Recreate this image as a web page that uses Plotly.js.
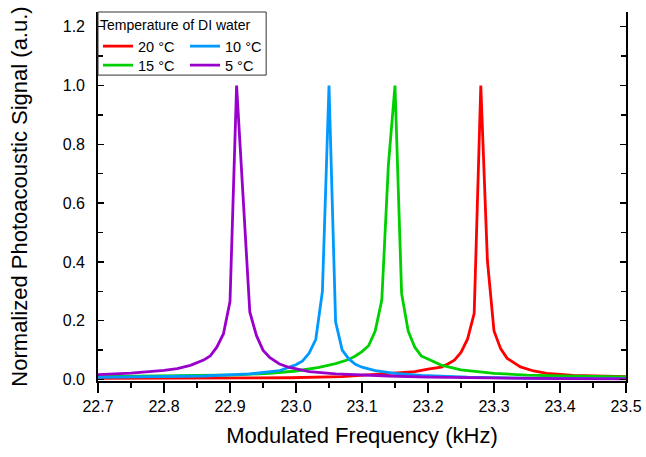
<!DOCTYPE html>
<html>
<head>
<meta charset="utf-8">
<script src="https://cdn.plot.ly/plotly-3.0.1.min.js"></script>
<style>html,body{margin:0;padding:0;background:#fff;}#chart{width:646px;height:457px;}</style>
</head>
<body>
<div id="chart"></div>
<script>
// 20 °C
var freq20 = [22.70, 22.99, 23.07, 23.09, 23.14, 23.18, 23.20, 23.22, 23.23, 23.24, 23.25, 23.26, 23.27, 23.28, 23.29, 23.30, 23.31, 23.32, 23.34, 23.36, 23.38, 23.40, 23.42, 23.50];
var sig20  = [0.004, 0.006, 0.010, 0.013, 0.020, 0.027, 0.035, 0.042, 0.053, 0.066, 0.092, 0.138, 0.225, 1.000, 0.405, 0.165, 0.105, 0.072, 0.043, 0.029, 0.021, 0.018, 0.014, 0.0095];
// 15 °C
var freq15 = [22.70, 22.81, 22.91, 22.96, 23.00, 23.035, 23.06, 23.08, 23.09, 23.10, 23.11, 23.12, 23.13, 23.14, 23.15, 23.16, 23.17, 23.18, 23.19, 23.20, 23.22, 23.25, 23.30, 23.35, 23.40, 23.50];
var sig15  = [0.010, 0.012, 0.016, 0.021, 0.029, 0.041, 0.054, 0.068, 0.080, 0.095, 0.115, 0.165, 0.270, 0.730, 1.000, 0.293, 0.165, 0.110, 0.080, 0.070, 0.049, 0.033, 0.021, 0.015, 0.012, 0.009];
// 10 °C
var freq10 = [22.70, 22.80, 22.86, 22.93, 22.96, 22.975, 22.99, 23.00, 23.01, 23.02, 23.03, 23.04, 23.05, 23.06, 23.07, 23.08, 23.09, 23.10, 23.12, 23.15, 23.19, 23.26, 23.35, 23.50];
var sig10  = [0.007, 0.009, 0.012, 0.019, 0.026, 0.030, 0.042, 0.050, 0.063, 0.090, 0.137, 0.300, 1.000, 0.196, 0.100, 0.070, 0.052, 0.042, 0.030, 0.021, 0.014, 0.008, 0.005, 0.003];
// 5 °C
var freq5  = [22.70, 22.75, 22.80, 22.82, 22.84, 22.85, 22.86, 22.87, 22.88, 22.89, 22.90, 22.91, 22.93, 22.94, 22.95, 22.96, 22.975, 22.99, 23.02, 23.06, 23.10, 23.14, 23.20, 23.30, 23.40, 23.50];
var sig5   = [0.017, 0.022, 0.031, 0.037, 0.048, 0.056, 0.066, 0.080, 0.110, 0.155, 0.265, 1.000, 0.230, 0.150, 0.100, 0.075, 0.053, 0.041, 0.027, 0.019, 0.015, 0.012, 0.008, 0.005, 0.003, 0.002];

var seriesNames = ['20 °C', '15 °C', '10 °C', '5 °C'];
var legendTitle = 'Temperature of DI water';
var xTitle = 'Modulated Frequency (kHz)';
var yTitle = 'Normalized Photoacoustic Signal (a.u.)';

var FONT = '"Liberation Sans", Arial, sans-serif';
var lw = 2.8;

var traces = [
  {x: freq20, y: sig20, name: seriesNames[0], legend: 'legend',  line: {color: '#ff0000', width: lw}},
  {x: freq15, y: sig15, name: seriesNames[1], legend: 'legend2', line: {color: '#00d000', width: lw}},
  {x: freq10, y: sig10, name: seriesNames[2], legend: 'legend',  line: {color: '#0099ff', width: lw}},
  {x: freq5,  y: sig5,  name: seriesNames[3], legend: 'legend2', line: {color: '#9900cc', width: lw}}
].map(function(t){ t.type = 'scatter'; t.mode = 'lines'; return t; });

var layout = {
  width: 646, height: 457,
  margin: {l: 98, r: 20, t: 12, b: 76},
  paper_bgcolor: '#fff', plot_bgcolor: '#fff',
  font: {family: FONT, color: '#000'},
  showlegend: true,
  xaxis: {
    range: [22.7, 23.5], dtick: 0.1, tick0: 22.7, tickformat: '.1f',
    ticks: 'outside', ticklen: 10, tickwidth: 1.5, tickcolor: '#000',
    minor: {dtick: 0.05, ticks: 'outside', ticklen: 5, tickwidth: 1.5, tickcolor: '#000'},
    showline: true, linecolor: '#000', linewidth: 1.8, mirror: false,
    showgrid: false, zeroline: false,
    tickfont: {size: 16, family: FONT},
    title: {text: xTitle, font: {size: 22, family: FONT}, standoff: 13}
  },
  xaxis2: {
    overlaying: 'x', side: 'top', anchor: 'y', matches: 'x', range: [22.7, 23.5],
    dtick: 0.1, tick0: 22.7, ticks: 'inside', ticklen: 6, tickwidth: 1.5, tickcolor: '#000',
    minor: {dtick: 0.05, ticks: 'inside', ticklen: 4, tickwidth: 1.5, tickcolor: '#000'},
    showticklabels: false, showline: true, linecolor: '#000', linewidth: 1.8,
    showgrid: false, zeroline: false
  },
  yaxis: {
    range: [-0.005, 1.25], dtick: 0.2, tick0: 0, tickformat: '.1f',
    ticks: 'inside', ticklen: 6, tickwidth: 1.5, tickcolor: '#000',
    minor: {dtick: 0.1, ticks: 'inside', ticklen: 5, tickwidth: 1.5, tickcolor: '#000'},
    showline: true, linecolor: '#000', linewidth: 1.8, mirror: 'ticks',
    showgrid: false, zeroline: false, ticklabelstandoff: 8,
    tickfont: {size: 16, family: FONT},
    title: {text: yTitle, font: {size: 22, family: FONT}, standoff: 29}
  },
  legend: {
    x: 0, y: 1, xanchor: 'left', yanchor: 'top', orientation: 'h',
    bgcolor: 'rgba(0,0,0,0)', borderwidth: 0,
    title: {text: legendTitle, side: 'top', font: {size: 14, family: FONT}},
    font: {size: 14.5, family: FONT}, entrywidth: 42, tracegroupgap: 0
  },
  legend2: {
    x: 0, y: 0.856, xanchor: 'left', yanchor: 'middle', orientation: 'h',
    bgcolor: 'rgba(0,0,0,0)', borderwidth: 0,
    font: {size: 14.5, family: FONT}, entrywidth: 42, tracegroupgap: 0
  },
  shapes: [{
    type: 'rect', xref: 'paper', yref: 'paper', x0: 0, x1: 0.3185, y0: 0.829, y1: 1,
    line: {color: '#333', width: 1}, fillcolor: 'rgba(0,0,0,0)', layer: 'above'
  }]
};

Plotly.newPlot('chart', traces, layout, {displayModeBar: false, staticPlot: true});
</script>
</body>
</html>
